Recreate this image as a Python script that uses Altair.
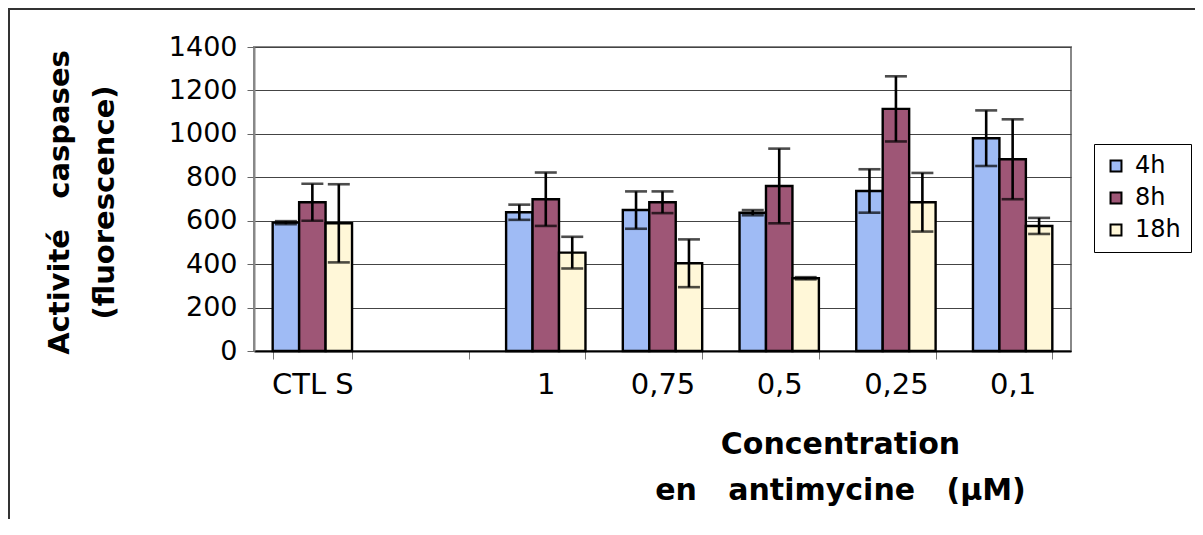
import altair as alt
import pandas as pd

categories = ["CTL S", " ", "1", "0,75", "0,5", "0,25", "0,1"]
data_cats = ["CTL S", "1", "0,75", "0,5", "0,25", "0,1"]
series = ["4h", "8h", "18h"]
v4 = [591, 639, 649, 637, 737, 980]
e4 = [7, 35, 86, 12, 100, 128]
v8 = [685, 699, 685, 760, 1115, 883]
e8 = [85, 123, 50, 172, 150, 184]
v18 = [588, 453, 404, 335, 685, 576]
e18 = [180, 73, 110, 5, 135, 37]
colors = ["#9fbbf5", "#9e5676", "#fff7d8"]

rows = []
for s, vals, errs in zip(series, [v4, v8, v18], [e4, e8, e18]):
    for c, v, e in zip(data_cats, vals, errs):
        rows.append({"cat": c, "time": s, "value": v, "lo": v - e, "hi": v + e})
df = pd.DataFrame(rows)

FONT = "DejaVu Sans"
NB = "\u00a0"

x_enc = alt.X(
    "cat:N",
    scale=alt.Scale(domain=categories, paddingInner=0.32, paddingOuter=0.16),
    sort=categories,
    axis=alt.Axis(
        title=["Concentration", f"en{NB*3}antimycine{NB*3}(\u03bcM)"],
        titleX=586, titleY=78, titleBaseline="top", titleAlign="center",
        titleFontSize=30, titleFontWeight="bold", titleFont=FONT, titleColor="black",
        titleLineHeight=46,
        labelAngle=0, labelFontSize=29, labelFont=FONT, labelColor="black",
        labelPadding=11, tickBand="extent", tickSize=8, tickColor="#777",
        domainColor="black", domainWidth=2, grid=False,
    ),
)
xoff = alt.XOffset("time:N", sort=series, scale=alt.Scale(domain=series, paddingInner=0, paddingOuter=0))
y_scale = alt.Scale(domain=[0, 1400], nice=False)

base = alt.Chart(df)

bars = base.mark_bar(stroke="black", strokeWidth=2.4).encode(
    x=x_enc,
    xOffset=xoff,
    y=alt.Y(
        "value:Q",
        scale=y_scale,
        axis=alt.Axis(
            values=[0, 200, 400, 600, 800, 1000, 1200, 1400],
            format="d",
            title=[f"Activit\u00e9{NB*3}caspases", "(fluorescence)"],
            titleX=-209, titleY=155, titleBaseline="top", titleAlign="center",
            titleFontSize=29, titleFontWeight="bold", titleFont=FONT, titleColor="black",
            titleLineHeight=45,
            labelFontSize=27, labelFont=FONT, labelColor="black", labelPadding=10,
            tickSize=7, tickColor="#666", domainColor="#888", domainWidth=2,
            grid=True, gridColor="#444", gridWidth=1,
        ),
    ),
    color=alt.Color(
        "time:N",
        sort=series,
        scale=alt.Scale(domain=series, range=colors),
        legend=alt.Legend(
            title=None, orient="none", legendX=840, legendY=97,
            strokeColor="black", padding=10, symbolType="square", symbolSize=120,
            symbolStrokeColor="black", symbolStrokeWidth=2, labelFontSize=24,
            labelFont=FONT, labelColor="black", labelOffset=7, rowPadding=8,
        ),
    ),
)

rules = base.mark_rule(color="black", strokeWidth=2.6).encode(
    x=alt.X("cat:N", sort=categories), xOffset=xoff,
    y=alt.Y("lo:Q", scale=y_scale), y2="hi:Q",
)
cap_hi = base.mark_tick(color="black", thickness=2.6, size=22, orient="horizontal").encode(
    x=alt.X("cat:N", sort=categories), xOffset=xoff, y=alt.Y("hi:Q", scale=y_scale),
)
cap_lo = base.mark_tick(color="black", thickness=2.6, size=22, orient="horizontal").encode(
    x=alt.X("cat:N", sort=categories), xOffset=xoff, y=alt.Y("lo:Q", scale=y_scale),
)

frame_data = alt.Data(values=[{"a": 1}])
frame_top = alt.Chart(frame_data).mark_rule(color="#333", strokeWidth=2).encode(
    x=alt.value(-246), x2=alt.value(941), y=alt.value(-38)
)
frame_left = alt.Chart(frame_data).mark_rule(color="#333", strokeWidth=2).encode(
    x=alt.value(-245), y=alt.value(-39), y2=alt.value(500)
)

chart = alt.layer(bars, rules, cap_hi, cap_lo, frame_top, frame_left).properties(
    width=817, height=304,
    autosize=alt.AutoSizeParams(type="none"),
    padding={"left": 246, "top": 39, "right": 124, "bottom": 168},
    background="white",
).configure_view(
    stroke="#888", strokeWidth=2
)

chart.save("out.html", embed_options={"renderer": "svg", "actions": False})
